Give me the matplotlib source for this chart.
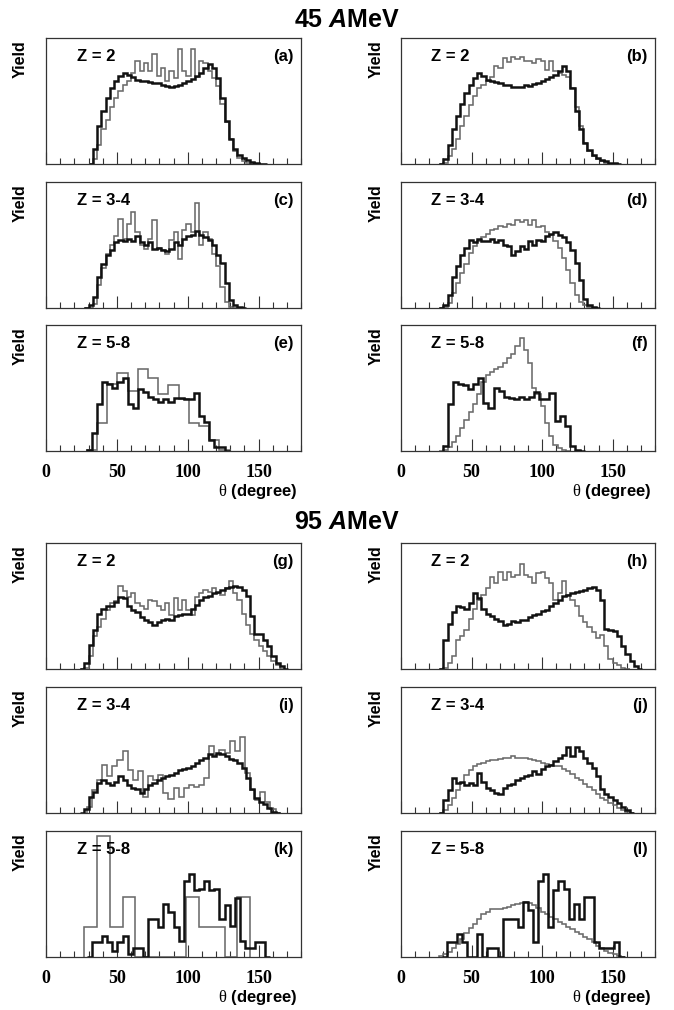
import numpy as np
import matplotlib
matplotlib.use("Agg")
import matplotlib.pyplot as plt
from matplotlib.ticker import MultipleLocator, FixedLocator

plt.rcParams['font.family'] = ['Liberation Sans', 'DejaVu Sans']
plt.rcParams['mathtext.fontset'] = 'custom'
plt.rcParams['mathtext.rm'] = 'Liberation Serif'
plt.rcParams['mathtext.it'] = 'Liberation Sans:italic:bold'
plt.rcParams['mathtext.bf'] = 'Liberation Sans:bold'

# ---------------- data (relative yield, panel height = 1) ----------------
# each series: (first bin edge, bin width, values)
a_black = (30, 3, [0, 0.12, 0.3, 0.42, 0.52, 0.6, 0.66, 0.7, 0.72, 0.71, 0.69, 0.67, 0.66, 0.655,
                   0.65, 0.645, 0.64, 0.63, 0.62, 0.615, 0.62, 0.63, 0.645, 0.66, 0.675, 0.695,
                   0.72, 0.76, 0.79, 0.76, 0.68, 0.52, 0.34, 0.2, 0.12, 0.07, 0.045, 0.03, 0.015,
                   0.008, 0.003, 0])
a_gray = (30, 3, [0, 0.04, 0.15, 0.28, 0.35, 0.45, 0.52, 0.58, 0.63, 0.66, 0.72, 0.82, 0.74, 0.8,
                  0.74, 0.87, 0.7, 0.76, 0.66, 0.74, 0.68, 0.91, 0.74, 0.7, 0.91, 0.69, 0.82, 0.8,
                  0.74, 0.68, 0.62, 0.48, 0.33, 0.2, 0.1, 0.05, 0.02, 0.005, 0])
b_black = (27, 3, [0, 0.04, 0.15, 0.28, 0.38, 0.48, 0.56, 0.63, 0.68, 0.72, 0.70, 0.67, 0.66, 0.65,
                   0.64, 0.63, 0.625, 0.615, 0.61, 0.61, 0.63, 0.62, 0.635, 0.645, 0.66, 0.675,
                   0.69, 0.71, 0.74, 0.78, 0.74, 0.6, 0.42, 0.28, 0.17, 0.11, 0.07, 0.05, 0.03,
                   0.02, 0.01, 0.005, 0])
b_gray = (27, 3, [0, 0.01, 0.06, 0.12, 0.2, 0.3, 0.38, 0.47, 0.54, 0.6, 0.63, 0.66, 0.69, 0.78,
                  0.76, 0.84, 0.81, 0.85, 0.83, 0.85, 0.82, 0.82, 0.8, 0.83, 0.82, 0.75, 0.82,
                  0.74, 0.72, 0.71, 0.69, 0.6, 0.45, 0.3, 0.17, 0.1, 0.06, 0.04, 0.02, 0.01, 0])
c_black = (27, 3, [0, 0.02, 0.09, 0.25, 0.35, 0.42, 0.46, 0.52, 0.54, 0.53, 0.55, 0.53, 0.57, 0.52,
                   0.5, 0.52, 0.47, 0.48, 0.46, 0.45, 0.47, 0.52, 0.5, 0.55, 0.57, 0.58, 0.61,
                   0.58, 0.56, 0.54, 0.5, 0.42, 0.36, 0.2, 0.06, 0.02, 0.01, 0])
c_gray = (27, 3, [0, 0, 0.03, 0.18, 0.32, 0.43, 0.5, 0.57, 0.71, 0.55, 0.67, 0.76, 0.6, 0.5, 0.47,
                  0.55, 0.7, 0.48, 0.46, 0.43, 0.54, 0.6, 0.39, 0.62, 0.67, 0.6, 0.83, 0.5, 0.6,
                  0.55, 0.43, 0.33, 0.17, 0.05, 0.01, 0])
d_black = (27, 3, [0, 0.02, 0.1, 0.25, 0.33, 0.42, 0.48, 0.54, 0.52, 0.55, 0.53, 0.53, 0.55, 0.52,
                   0.54, 0.5, 0.49, 0.42, 0.45, 0.49, 0.47, 0.53, 0.5, 0.54, 0.53, 0.57, 0.59,
                   0.6, 0.58, 0.56, 0.52, 0.46, 0.36, 0.22, 0.07, 0.02, 0.01, 0])
d_gray = (27, 3, [0, 0.01, 0.04, 0.12, 0.2, 0.28, 0.35, 0.44, 0.49, 0.53, 0.56, 0.59, 0.62, 0.63,
                  0.65, 0.64, 0.67, 0.66, 0.7, 0.68, 0.7, 0.66, 0.7, 0.64, 0.65, 0.6, 0.58, 0.53,
                  0.48, 0.4, 0.3, 0.2, 0.1, 0.05, 0.02, 0.005, 0])
e_black = (28.8, 3.6, [0.005, 0.14, 0.37, 0.55, 0.53, 0.5, 0.55, 0.58, 0.37, 0.34, 0.49, 0.47,
                       0.43, 0.41, 0.39, 0.41, 0.39, 0.42, 0.42, 0.41, 0.41, 0.46, 0.28, 0.23,
                       0.09, 0.03, 0.03, 0])
e_gray = (28.8, 7.2, [0.01, 0.22, 0.53, 0.62, 0.48, 0.65, 0.58, 0.45, 0.52, 0.41, 0.22, 0.2,
                      0.09, 0.01])
f_black = (29.6, 3.6, [0.04, 0.37, 0.55, 0.53, 0.52, 0.49, 0.53, 0.58, 0.38, 0.34, 0.5, 0.48,
                       0.43, 0.42, 0.41, 0.43, 0.41, 0.43, 0.47, 0.41, 0.41, 0.46, 0.24, 0.28,
                       0.2, 0.04, 0.01, 0])
f_gray = (27, 3, [0, 0.01, 0.03, 0.07, 0.12, 0.18, 0.25, 0.31, 0.37, 0.45, 0.55, 0.6, 0.63, 0.65,
                  0.67, 0.7, 0.74, 0.77, 0.83, 0.9, 0.8, 0.7, 0.5, 0.45, 0.36, 0.22, 0.12, 0.05,
                  0.02, 0.01, 0])
g_black = (24, 3, [0, 0.05, 0.19, 0.31, 0.44, 0.48, 0.5, 0.5, 0.53, 0.57, 0.56, 0.5, 0.47, 0.45,
                   0.41, 0.39, 0.37, 0.35, 0.37, 0.39, 0.4, 0.39, 0.42, 0.43, 0.44, 0.44, 0.48,
                   0.51, 0.55, 0.57, 0.58, 0.6, 0.61, 0.63, 0.64, 0.65, 0.66, 0.65, 0.63, 0.58,
                   0.42, 0.28, 0.28, 0.23, 0.18, 0.1, 0.05, 0.02, 0])
g_gray = (24, 3, [0, 0.01, 0.1, 0.26, 0.33, 0.4, 0.47, 0.52, 0.54, 0.66, 0.62, 0.57, 0.6, 0.52,
                  0.5, 0.48, 0.55, 0.54, 0.5, 0.47, 0.52, 0.43, 0.56, 0.47, 0.55, 0.47, 0.43,
                  0.57, 0.6, 0.63, 0.61, 0.64, 0.6, 0.59, 0.64, 0.7, 0.6, 0.55, 0.44, 0.35, 0.28,
                  0.23, 0.18, 0.14, 0.1, 0.06, 0.03, 0])
h_black = (27, 3, [0, 0.23, 0.36, 0.45, 0.5, 0.49, 0.48, 0.52, 0.6, 0.56, 0.48, 0.44, 0.42, 0.4,
                   0.38, 0.35, 0.36, 0.38, 0.37, 0.39, 0.39, 0.41, 0.43, 0.44, 0.46, 0.47, 0.5,
                   0.52, 0.55, 0.58, 0.59, 0.6, 0.61, 0.62, 0.63, 0.64, 0.65, 0.63, 0.55, 0.32,
                   0.31, 0.3, 0.26, 0.18, 0.12, 0.06, 0.02, 0])
h_gray = (27, 3, [0, 0.01, 0.05, 0.1, 0.23, 0.26, 0.31, 0.4, 0.48, 0.55, 0.59, 0.64, 0.73, 0.68,
                  0.77, 0.71, 0.77, 0.73, 0.75, 0.83, 0.75, 0.73, 0.68, 0.76, 0.77, 0.72, 0.68,
                  0.55, 0.6, 0.7, 0.59, 0.55, 0.5, 0.42, 0.37, 0.33, 0.29, 0.25, 0.27, 0.18,
                  0.08, 0.05, 0.03, 0.01, 0])
i_black = (24, 3, [0, 0.03, 0.13, 0.17, 0.24, 0.26, 0.24, 0.22, 0.25, 0.29, 0.26, 0.22, 0.2, 0.19,
                   0.16, 0.19, 0.22, 0.24, 0.26, 0.28, 0.29, 0.3, 0.32, 0.34, 0.35, 0.36, 0.37,
                   0.4, 0.42, 0.44, 0.47, 0.45, 0.48, 0.47, 0.45, 0.43, 0.42, 0.4, 0.36, 0.28,
                   0.19, 0.12, 0.09, 0.07, 0.04, 0.01, 0])
i_gray = (28.8, 3.6, [0.05, 0.18, 0.26, 0.38, 0.29, 0.37, 0.42, 0.49, 0.34, 0.26, 0.33, 0.13,
                      0.29, 0.26, 0.3, 0.16, 0.11, 0.2, 0.13, 0.2, 0.22, 0.21, 0.22, 0.28, 0.53,
                      0.46, 0.5, 0.48, 0.57, 0.49, 0.6, 0.32, 0.18, 0.1, 0.17, 0.09, 0.03, 0])
j_black = (27, 3, [0, 0.1, 0.18, 0.28, 0.24, 0.25, 0.22, 0.24, 0.22, 0.32, 0.25, 0.2, 0.18, 0.16,
                   0.15, 0.2, 0.22, 0.23, 0.26, 0.28, 0.29, 0.3, 0.33, 0.31, 0.35, 0.37, 0.38,
                   0.41, 0.44, 0.46, 0.52, 0.45, 0.52, 0.49, 0.44, 0.4, 0.36, 0.29, 0.19, 0.15,
                   0.13, 0.1, 0.08, 0.05, 0.02, 0])
j_gray = (27, 3, [0, 0.02, 0.06, 0.12, 0.18, 0.24, 0.3, 0.34, 0.37, 0.39, 0.4, 0.41, 0.42, 0.42,
                  0.43, 0.44, 0.44, 0.45, 0.44, 0.44, 0.44, 0.43, 0.42, 0.41, 0.4, 0.39, 0.38,
                  0.37, 0.37, 0.35, 0.33, 0.31, 0.28, 0.26, 0.23, 0.21, 0.18, 0.15, 0.12, 0.1,
                  0.08, 0.06, 0.04, 0.02, 0.01, 0])
k_black = (28.8, 3.6, [0, 0.12, 0.12, 0.17, 0.12, 0.05, 0.12, 0.17, 0.02, 0.07, 0.07, 0, 0.3,
                       0.3, 0.24, 0.42, 0.36, 0.24, 0.13, 0.6, 0.66, 0.53, 0.54, 0.6, 0.53,
                       0.54, 0.3, 0.41, 0.25, 0.47, 0.13, 0.07, 0.07, 0.12, 0.12, 0])
k_gray = (27, 9, [0.24, 0.96, 0.24, 0.48, 0, 0, 0, 0, 0.48, 0.24, 0.24, 0, 0.48])
l_black = (28.8, 3.6, [0, 0.12, 0.12, 0.18, 0.12, 0, 0, 0.18, 0, 0.07, 0.07, 0, 0.3, 0.3, 0.3,
                       0.24, 0.44, 0.37, 0.12, 0.6, 0.66, 0.24, 0.53, 0.6, 0.54, 0.3, 0.42,
                       0.3, 0.48, 0.48, 0.12, 0.07, 0.07, 0.07, 0.12, 0])
l_gray = (27, 3, [0.01, 0.02, 0.04, 0.07, 0.1, 0.14, 0.19, 0.23, 0.26, 0.3, 0.34, 0.36, 0.38,
                  0.38, 0.38, 0.39, 0.4, 0.41, 0.42, 0.43, 0.44, 0.43, 0.41, 0.39, 0.36, 0.34,
                  0.32, 0.3, 0.28, 0.26, 0.24, 0.22, 0.2, 0.18, 0.16, 0.14, 0.12, 0.09, 0.07,
                  0.05, 0.03, 0.02, 0.01, 0])

panel_letters = ['a', 'b', 'c', 'd', 'e', 'f', 'g', 'h', 'i', 'j', 'k', 'l']
z_labels = ['Z = 2', 'Z = 2', 'Z = 3-4', 'Z = 3-4', 'Z = 5-8', 'Z = 5-8'] * 2
black_series = [a_black, b_black, c_black, d_black, e_black, f_black,
                g_black, h_black, i_black, j_black, k_black, l_black]
gray_series = [a_gray, b_gray, c_gray, d_gray, e_gray, f_gray,
               g_gray, h_gray, i_gray, j_gray, k_gray, l_gray]
energies = ['45', '95']
major_ticks = [0, 50, 100, 150]
tick_labels = ['0', '50', '100', '150']

# ---------------- figure ----------------
W, H = 674, 1010
fig = plt.figure(figsize=(W / 100, H / 100), dpi=100)

col_left = [46, 401]
col_width = [255, 254]
row_top = [38, 182, 325, 543, 687, 831]
ph = 126


def draw_series(ax, s, color, lw, z):
    start, width, vals = s
    vals = np.asarray(vals, dtype=float)
    edges = start + width * np.arange(len(vals) + 1)
    ax.stairs(vals, edges, baseline=0, color=color, lw=lw, zorder=z)


for idx in range(12):
    r, c = divmod(idx, 2)
    left = col_left[c] / W
    bottom = 1 - (row_top[r] + ph) / H
    ax = fig.add_axes([left, bottom, col_width[c] / W, ph / H])
    draw_series(ax, gray_series[idx], '#6a6a6a', 1.15, 2)
    draw_series(ax, black_series[idx], '#111111', 1.8, 3)
    ax.set_xlim(0, 180)
    ax.set_ylim(0, 1)
    ax.set_yticks([])
    ax.xaxis.set_major_locator(FixedLocator(major_ticks))
    ax.xaxis.set_minor_locator(MultipleLocator(10))
    ax.tick_params(axis='x', which='major', direction='in', length=8.5, width=0.8,
                   color='#333333', pad=9.5)
    ax.tick_params(axis='x', which='minor', direction='in', length=4.2, width=0.8,
                   color='#333333')
    for sp in ax.spines.values():
        sp.set_linewidth(0.9)
        sp.set_color('#333333')
    if r in (2, 5):
        ax.set_xticklabels(tick_labels, fontfamily='Liberation Serif', fontweight='bold',
                           fontsize=13)
        ax.text(0.985, -0.325, r'$\mathrm{\theta}$ (degree)', transform=ax.transAxes,
                ha='right', va='center', fontsize=12, fontweight='bold')
    else:
        ax.set_xticklabels([])
    ax.text(0.12, 0.85, z_labels[idx], transform=ax.transAxes, ha='left', va='center',
            fontsize=12, fontweight='bold', zorder=5)
    ax.text(0.972, 0.85, '(%s)' % panel_letters[idx], transform=ax.transAxes, ha='right',
            va='center', fontsize=12, fontweight='bold', zorder=5)
    ylab_x = (20 if c == 0 else 376) / W
    fig.text(ylab_x, 1 - (row_top[r] + 2) / H, 'Yield', rotation=90, ha='center', va='top',
             fontsize=11.5, fontweight='bold')

for k, e in enumerate(energies):
    yc = [20, 522][k]
    fig.text(347 / W, 1 - yc / H, e + r' $\mathit{A}$MeV', ha='center', va='center',
             fontsize=18, fontweight='bold')

fig.savefig('out.png', dpi=100)
